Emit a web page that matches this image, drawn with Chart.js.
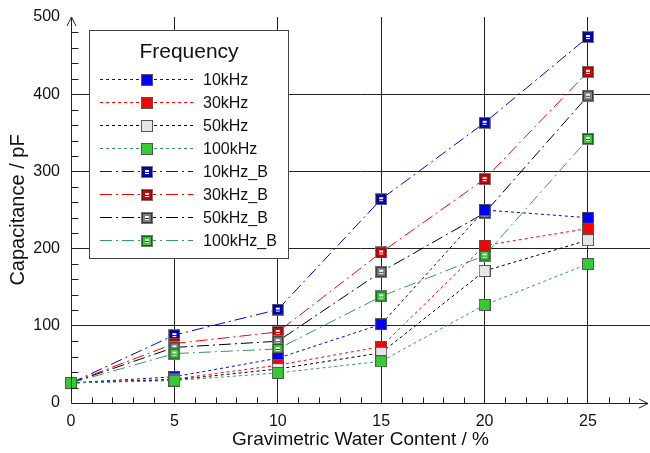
<!DOCTYPE html>
<html>
<head>
<meta charset="utf-8">
<script src="https://cdn.jsdelivr.net/npm/chart.js@4.4.0/dist/chart.umd.min.js"></script>
<style>
  html, body { margin: 0; padding: 0; background: #fff; }
  #wrap { width: 650px; height: 453px; }
</style>
</head>
<body>
<div id="wrap"><canvas id="cap-chart" width="650" height="453"></canvas></div>
<script>
// water content (%) on the x axis
const waterContent = [0, 5, 10, 15, 20, 25];
const xTicks = [0, 5, 10, 15, 20, 25];
const yTicks = [0, 100, 200, 300, 400, 500];
const X_MAX = 28;

// capacitance (pF) per frequency
const cap10k = [26, 34, 58, 102, 250, 240];
const cap30k = [26, 31, 49, 73, 204, 226];
const cap50k = [26, 30, 44, 65, 171, 211];
const cap100k = [26, 29, 39, 54, 127, 180];
const cap10kB = [26, 88, 121, 264, 363, 474];
const cap30kB = [26, 77, 92, 195, 290, 429];
const cap50kB = [26, 72, 80, 170, 246, 398];
const cap100kB = [26, 64, 70, 138, 191, 342];

const seriesNames = ['10kHz', '30kHz', '50kHz', '100kHz', '10kHz_B', '30kHz_B', '50kHz_B', '100kHz_B'];

const FONT = 'Liberation Sans, Arial, sans-serif';

/**
 * Plain square marker with a grey rim
 */
function plainMarker(fill) {
  const c = document.createElement('canvas');
  c.width = 12; c.height = 12;
  const g = c.getContext('2d');
  g.fillStyle = fill;
  g.fillRect(0, 0, 12, 12);
  g.strokeStyle = '#555';
  g.lineWidth = 1;
  g.strokeRect(0.5, 0.5, 11, 11);
  return c;
}

/**
 * Square marker with small white box inside (the _B series)
 */
function boxMarker(fill, rim) {
  const c = document.createElement('canvas');
  c.width = 12; c.height = 12;
  const g = c.getContext('2d');
  g.fillStyle = fill;
  g.fillRect(0, 0, 12, 12);
  g.strokeStyle = '#777';
  g.strokeRect(0.5, 0.5, 11, 11);
  g.strokeStyle = rim;
  g.strokeRect(1.5, 1.5, 9, 9);
  g.fillStyle = '#fff';
  g.fillRect(4, 4, 4, 4);
  g.fillStyle = rim;
  g.fillRect(4, 6, 4, 1);
  return c;
}

const DASH = [3, 3];
const DASH_DOT = [12, 4, 2, 4];

const styles = [
  { line: '#0000ff', dash: DASH, marker: plainMarker('#0000ff'), order: 4 },
  { line: '#ff0000', dash: DASH, marker: plainMarker('#ff0000'), order: 3 },
  { line: '#000000', dash: DASH, marker: plainMarker('#e6e6e6'), order: 2 },
  { line: '#339966', dash: DASH, marker: plainMarker('#33cc33'), order: 1 },
  { line: '#0000ff', dash: DASH_DOT, marker: boxMarker('#0000cc', '#000088'), order: 8 },
  { line: '#ff0000', dash: DASH_DOT, marker: boxMarker('#dd0000', '#880000'), order: 7 },
  { line: '#000000', dash: DASH_DOT, marker: boxMarker('#808080', '#333333'), order: 6 },
  { line: '#339966', dash: DASH_DOT, marker: boxMarker('#33cc33', '#116611'), order: 5 },
];

const allSeries = [cap10k, cap30k, cap50k, cap100k, cap10kB, cap30kB, cap50kB, cap100kB];

const datasets = allSeries.map((vals, i) => ({
  label: seriesNames[i],
  data: vals.map((v, j) => ({ x: waterContent[j], y: v })),
  borderColor: styles[i].line,
  borderWidth: 1,
  borderDash: styles[i].dash,
  pointStyle: styles[i].marker,
  pointRadius: 6,
  fill: false,
  tension: 0,
  clip: false,
  order: styles[i].order,
}));

// axis lines with arrows plus the small inward ticks
const axisPlugin = {
  id: 'axisDecor',
  afterDatasetsDraw(chart) {
    const ctx = chart.ctx;
    const xs = chart.scales.x;
    const ys = chart.scales.y;
    const x0 = Math.round(xs.getPixelForValue(0)) + 0.5;
    const y0 = Math.round(ys.getPixelForValue(0)) + 0.5;
    const yTop = ys.getPixelForValue(500);
    const xEnd = 648;
    ctx.save();
    ctx.strokeStyle = '#222';
    ctx.lineWidth = 1;
    ctx.setLineDash([]);
    ctx.beginPath();
    ctx.moveTo(x0, y0);
    ctx.lineTo(x0, yTop);
    ctx.moveTo(x0 - 4.5, yTop + 9);
    ctx.lineTo(x0, yTop);
    ctx.lineTo(x0 + 4.5, yTop + 9);
    ctx.moveTo(x0, y0);
    ctx.lineTo(xEnd, y0);
    ctx.moveTo(xEnd - 9, y0 - 4.5);
    ctx.lineTo(xEnd, y0);
    ctx.lineTo(xEnd - 9, y0 + 4.5);
    // minor ticks
    for (let v = 1; v <= 27; v++) {
      if (v % 5 === 0) continue;
      const px = Math.round(xs.getPixelForValue(v)) + 0.5;
      ctx.moveTo(px, y0);
      ctx.lineTo(px, y0 - 6);
    }
    for (let v = 20; v < 500; v += 20) {
      if (v % 100 === 0) continue;
      const py = Math.round(ys.getPixelForValue(v)) + 0.5;
      ctx.moveTo(x0, py);
      ctx.lineTo(x0 + 7, py);
    }
    ctx.stroke();
    ctx.restore();
  },
};

// boxed legend: line sample with marker in the middle
const legendPlugin = {
  id: 'boxLegend',
  afterDraw(chart) {
    const ctx = chart.ctx;
    ctx.save();
    ctx.fillStyle = '#fff';
    ctx.fillRect(89, 30, 200, 229);
    ctx.strokeStyle = '#444';
    ctx.lineWidth = 1;
    ctx.strokeRect(89.5, 30.5, 199, 228);

    ctx.fillStyle = '#111';
    ctx.font = '21px ' + FONT;
    ctx.textAlign = 'center';
    ctx.textBaseline = 'middle';
    ctx.fillText('Frequency', 189, 52);

    ctx.font = '16px ' + FONT;
    ctx.textAlign = 'left';
    chart.data.datasets.forEach((ds, i) => {
      const y = Math.round(79 + i * 23.05) + 0.5;
      ctx.strokeStyle = ds.borderColor;
      ctx.lineWidth = 1;
      ctx.setLineDash(ds.borderDash);
      ctx.beginPath();
      ctx.moveTo(100, y);
      ctx.lineTo(193, y);
      ctx.stroke();
      ctx.setLineDash([]);
      const m = ds.pointStyle;
      ctx.drawImage(m, 147 - m.width / 2, Math.round(y - m.height / 2));
      ctx.fillStyle = '#111';
      ctx.fillText(ds.label, 203, y + 1);
    });
    ctx.restore();
  },
};

const hiddenTick = (v) => v === 0 || v === 500;
const gridColor = (c) => (c.tick && hiddenTick(c.tick.value)) ? 'rgba(0,0,0,0)' : '#222';

const capChart = new Chart(document.getElementById('cap-chart').getContext('2d'), {
  type: 'line',
  data: { datasets: datasets },
  options: {
    responsive: false,
    animation: false,
    devicePixelRatio: 1,
    layout: { autoPadding: false, padding: { top: 17, right: 0, left: 0, bottom: 0 } },
    plugins: {
      legend: { display: false },
      tooltip: { enabled: false },
    },
    scales: {
      x: {
        type: 'linear',
        min: 0,
        max: X_MAX,
        afterBuildTicks: (s) => { s.ticks = xTicks.map((v) => ({ value: v })); },
        afterFit: (s) => { s.height = 50; s.paddingLeft = 0; s.paddingRight = 0; },
        grid: { color: gridColor, drawTicks: false, lineWidth: 1 },
        border: { display: false },
        ticks: {
          color: '#111',
          font: { family: FONT, size: 16 },
          padding: 9,
          maxRotation: 0,
          autoSkip: false,
        },
        title: {
          display: true,
          text: 'Gravimetric Water Content / %',
          color: '#111',
          font: { family: FONT, size: 19 },
          padding: { top: 0, bottom: 2 },
        },
      },
      y: {
        type: 'linear',
        min: 0,
        max: 500,
        afterBuildTicks: (s) => { s.ticks = yTicks.map((v) => ({ value: v })); },
        afterFit: (s) => { s.width = 71; s.paddingTop = 0; s.paddingBottom = 0; },
        grid: { color: gridColor, drawTicks: false, lineWidth: 1 },
        border: { display: false },
        ticks: { color: '#111', font: { family: FONT, size: 16 }, padding: 11 },
        title: {
          display: true,
          text: 'Capacitance / pF',
          color: '#111',
          font: { family: FONT, size: 20 },
          padding: { top: 6, bottom: 0 },
        },
      },
    },
  },
  plugins: [axisPlugin, legendPlugin],
});
</script>
</body>
</html>
